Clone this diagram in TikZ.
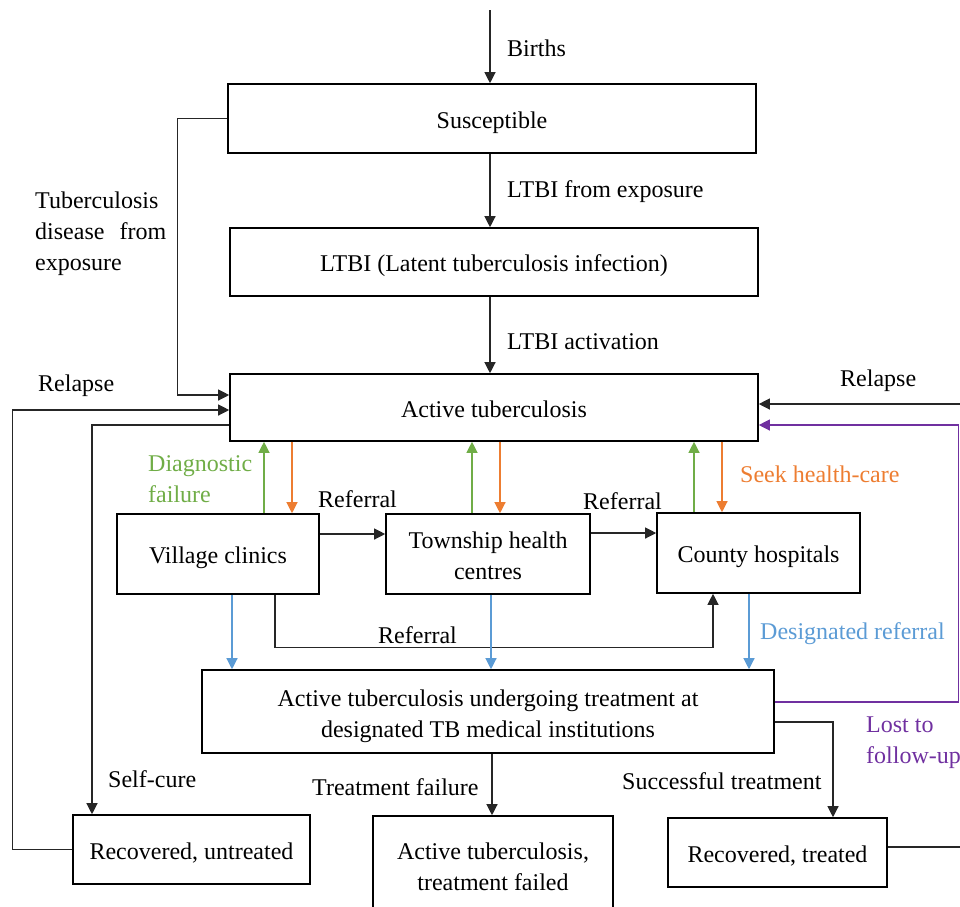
\documentclass[tikz,border=0pt]{standalone}
\usepackage{fontspec}
\setmainfont{Liberation Serif}
\usetikzlibrary{arrows.meta,calc}
\definecolor{dgreen}{RGB}{112,173,71}
\definecolor{dorange}{RGB}{237,125,49}
\definecolor{dblue}{RGB}{91,155,213}
\definecolor{dpurple}{RGB}{112,48,160}
\tikzset{
  box/.style={draw, line width=1.6pt, inner sep=0pt, align=center},
  sbox/.style={box, text height=19pt, text depth=0pt},
  conn/.style={line width=1.2pt, draw=black!85},
  arr/.style={conn, -{Triangle[length=11pt,width=11pt]}},
  garr/.style={arr, draw=dgreen, color=dgreen},
  oarr/.style={arr, draw=dorange, color=dorange},
  barr/.style={arr, draw=dblue, color=dblue},
  parr/.style={arr, draw=dpurple, color=dpurple},
  lab/.style={inner sep=0pt, anchor=west, align=left},
}
\begin{document}
\begin{tikzpicture}[x=1pt,y=-1pt,font=\fontsize{24pt}{31pt}\selectfont]
\useasboundingbox (0,0) rectangle (960,906);
\clip (0,0) rectangle (960,906);
% boxes
\node[sbox, minimum width=528pt, minimum height=69pt] (sus) at (492,118.5) {Susceptible};
\node[sbox, minimum width=528pt, minimum height=68pt] (ltbi) at (494,262) {LTBI (Latent tuberculosis infection)};
\node[sbox, minimum width=528pt, minimum height=67pt] (act) at (494,407.5) {Active tuberculosis};
\node[sbox, minimum width=202pt, minimum height=80pt] (vil) at (218,554) {Village clinics};
\node[box, minimum width=204pt, minimum height=80pt] (town) at (488,554) {\rule{0pt}{20.5pt}Township health\\centres};
\node[sbox, minimum width=203pt, minimum height=80pt] (county) at (758.5,553) {County hospitals};
\node[box, minimum width=572pt, minimum height=83pt] (treat) at (488,711.5) {\rule{0pt}{26.5pt}Active tuberculosis undergoing treatment at\\designated TB medical institutions};
\node[sbox, minimum width=237pt, minimum height=69pt] (recu) at (191.5,849.5) {Recovered, untreated};
\node[box, minimum width=240pt, minimum height=101pt] (failed) at (493,866.5) {Active tuberculosis,\\treatment failed};
\node[sbox, minimum width=219pt, minimum height=69pt] (rect) at (777.5,852.5) {Recovered, treated};
% free ends
\coordinate (birthsrc) at (490,10);
\coordinate (relR) at (960,404);
% main chain
\draw[arr] (birthsrc) -- (birthsrc |- sus.north);
\draw[arr] ([xshift=-2pt]sus.south) -- ([xshift=-2pt]sus.south |- ltbi.north);
\draw[arr] ([xshift=-4pt]ltbi.south) -- ([xshift=-4pt]ltbi.south |- act.north);
% exposure
\draw[arr] (sus.west) -- ++(-50,0) |- ([yshift=12.5pt]act.west);
% relapse left
\draw[arr] (recu.west) -- ++(-60,0) |- ([yshift=-2.5pt]act.west);
% self-cure
\draw[arr] ([yshift=-17.5pt]act.west) -| ([xshift=-99.5pt]recu.north);
% relapse right
\draw[arr] (relR) -- (relR -| act.east);
\draw[conn] ([yshift=5.5pt]rect.east) -- ++(73,0);
% lost to follow-up
\draw[parr] ([yshift=9.5pt]treat.east) -- ++(184,0) |- ([yshift=-17.5pt]act.east);
% successful treatment
\draw[arr] ([yshift=-10.5pt]treat.east) -| ([xshift=55.5pt]rect.north);
% treatment failure
\draw[arr] ([xshift=4pt]treat.south) -- ([xshift=4pt]treat.south |- failed.north);
% diagnostic failure / seek health-care
\draw[garr] ([xshift=46pt]vil.north) -- ([xshift=46pt]vil.north |- act.south);
\draw[oarr] ([xshift=74pt]vil.north |- act.south) -- ([xshift=74pt]vil.north);
\draw[garr] ([xshift=-16pt]town.north) -- ([xshift=-16pt]town.north |- act.south);
\draw[oarr] ([xshift=12pt]town.north |- act.south) -- ([xshift=12pt]town.north);
\draw[garr] ([xshift=-64.5pt]county.north) -- ([xshift=-64.5pt]county.north |- act.south);
\draw[oarr] ([xshift=-36.5pt]county.north |- act.south) -- ([xshift=-36.5pt]county.north);
% referrals
\draw[arr] ([yshift=20pt]vil.east) -- ([yshift=20pt]vil.east -| town.west);
\draw[arr] ([yshift=21pt]town.east) -- ([yshift=21pt]town.east -| county.west);
\draw[arr] ([xshift=57pt]vil.south) -- ++(0,53) -| ([xshift=-45.5pt]county.south);
% designated referral
\draw[barr] ([xshift=14pt]vil.south) -- ([xshift=14pt]vil.south |- treat.north);
\draw[barr] ([xshift=3pt]town.south) -- ([xshift=3pt]town.south |- treat.north);
\draw[barr] ([xshift=-9.5pt]county.south) -- ([xshift=-9.5pt]county.south |- treat.north);
% labels
\node[lab] (lbirths) at (507,48) {Births};
\node[lab] (lexp) at (507,192) {LTBI from exposure};
\node[lab] (lact) at (507,342) {LTBI activation};
\node[lab] (ltde) at (35,234) {Tuberculosis\\\hbox to 131pt{disease\hfill from}\\exposure};
\node[lab] (lrell) at (38,386) {Relapse};
\node[lab] (lrelr) at (840,381) {Relapse};
\node[lab, text=dgreen] (ldiag) at (148,479.5) {Diagnostic\\failure};
\node[lab, text=dorange] (lseek) at (740,474) {Seek health-care};
\node[lab] (lref1) at (318,499) {Referral};
\node[lab] (lref2) at (583,501) {Referral};
\node[lab] (lref3) at (378,635) {Referral};
\node[lab, text=dblue] (ldes) at (760,634) {Designated referral};
\node[lab, text=dpurple] (llost) at (866,742.5) {Lost to\\follow-up};
\node[lab] (lself) at (108,779) {Self-cure};
\node[lab] (lfail) at (312,787) {Treatment failure};
\node[lab] (lsucc) at (622,781) {Successful treatment};
\end{tikzpicture}
\end{document}
